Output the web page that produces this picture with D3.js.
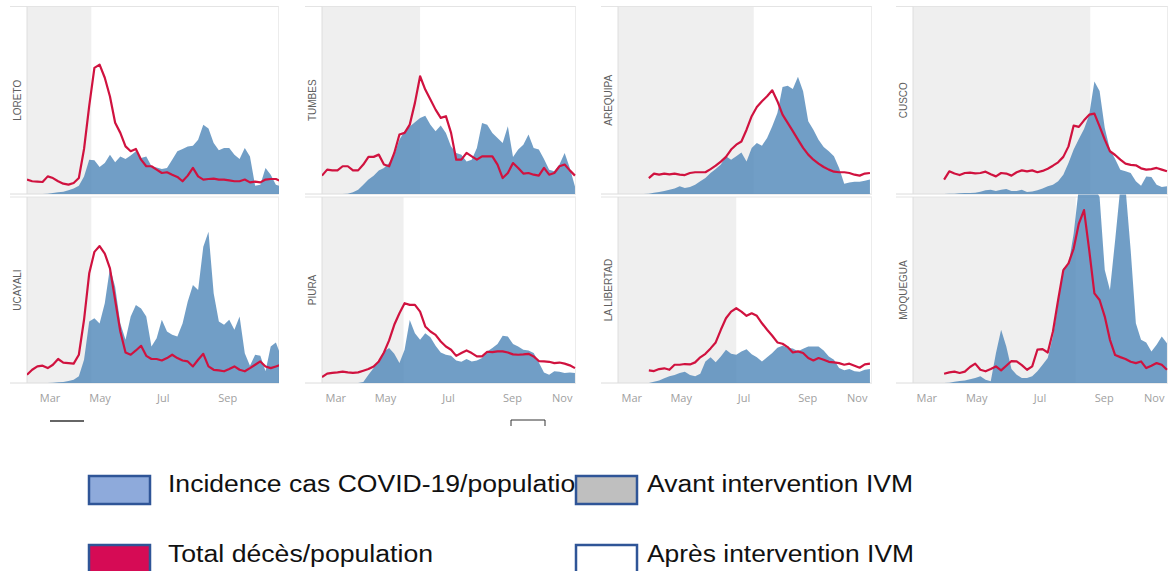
<!DOCTYPE html>
<html>
<head>
<meta charset="utf-8">
<script src="https://cdn.jsdelivr.net/npm/d3@7"></script>
<style>
  body { margin: 0; background: #fff; }
</style>
</head>
<body>
<svg id="chart" width="1168" height="571"></svg>
<script>
// readings every 5 days from the start of each column, 0-100 = share of panel height
var step = 5;

var regions = ["LORETO", "TUMBES", "AREQUIPA", "CUSCO", "UCAYALI", "PIURA", "LA LIBERTAD", "MOQUEGUA"];
var colStart = ["2020-02-21", "2020-03-01", "2020-03-01", "2020-03-01"];
var colEnd = ["2020-10-21", "2020-11-02", "2020-11-03", "2020-11-02"];
var ivmStart = ["2020-04-23", "2020-06-04", "2020-07-11", "2020-08-19",
                "2020-04-23", "2020-05-19", "2020-06-24", "2020-08-05"];
var tickDates = ["2020-03-01", "2020-05-01", "2020-07-01", "2020-09-01", "2020-11-01"];

var loretoCases = [0,0,0,0,0.2,0.5,0.9,1.2,2,3,4.4,9.4,18.3,18,14.4,16.5,21,17,20,18.7,20.5,22.8,19.2,20,15,14.2,13.3,13.9,18.3,22.8,24,25.4,25.8,29,37,35,27.2,23.3,24.6,24.6,21,18.7,24.6,20,4.4,5,13.9,10.3,5,4];
var loretoDeaths = [7.7,6.8,6.6,6.4,9.4,8.5,6.8,5.5,5,5.9,8.5,24,47,67.3,69,62,52,38,32.6,25.4,22.8,24,18.3,14.8,14.8,13,11.2,11.6,10.3,9.1,6.8,9.8,13.9,9.4,7.7,8,8.2,7.7,7.7,7.3,6.8,6.8,7.7,6.2,6.6,6.2,7.7,8,8,6.8];

var tumbesCases = [0,0,0,0,0,0.2,0.9,2.3,5,7.7,9.8,12.6,13.9,16.5,21,29,33.5,36,38.3,40.6,41.8,37,33.5,36.5,32.6,25.4,21.9,21,17.4,18.3,24.6,37.9,37,32.6,29.9,27.2,36.1,19.8,23.7,26.3,31.7,24.6,23.7,18.7,13,12.1,15.7,21.9,13.9,4];
var tumbesDeaths = [9.8,13,12.6,12.6,14.8,14.8,12.6,12.6,15.7,19.8,19.8,21,15.7,14.8,21.9,31.7,32.6,37,48.6,62.8,55.7,50.4,45,40.6,41.5,32.6,18.3,18.3,21.9,20.1,18.3,20.1,20.1,20.1,15.7,8.5,11.2,16.5,13.9,10.9,11.2,10.3,9.8,13.9,10.3,11.2,14.8,15.7,12.6,9.8];

var arequipaCases = [0,0,0,0,0,0,0.2,0.7,1.1,1.6,2.3,3,4.1,3.2,3.7,5,6.8,8.5,11.2,13.3,15.7,20.1,18.3,20.1,22.2,17.4,24.6,27.2,25.8,29.9,36.1,43.2,57.1,57.8,56,62.5,54.8,38.8,34.3,29,25.1,22.8,20.1,13.9,5.5,6.2,6.6,6.6,7.1,7.7];
var arequipaDeaths = [null,null,null,null,null,null,8.5,10.9,10.3,10.9,10.5,10.9,10.3,10.1,11.2,11.6,11.6,11.6,13.3,15.1,17.3,19.8,23.7,26.3,28,34.3,41.5,46.4,49.5,52.1,55.3,49.5,42.3,37.9,33.5,29,24.6,21,18.3,16.2,14.4,13,11.9,11.6,11.6,11.2,10.3,9.8,10.9,11.2];

var cuscoCases = [0,0,0,0,0,0,0,0.2,0.2,0.4,0.5,0.5,0.7,1.2,2,2.3,1.6,2.3,2.7,1.6,1.6,2.3,1.1,1.4,2,3,4.1,5,6.8,10.3,16.5,23.7,29.4,34.7,42.3,60,55,35.2,23.7,18.7,13,12.1,11.2,6.8,4.4,9.4,9.1,5,3.7,4.1];
var cuscoDeaths = [null,null,null,null,null,null,7.7,12.1,10.9,10.1,11.2,11.4,11,11.2,11.9,10.5,9.4,11.2,10.9,9.8,11.6,12.6,12.1,12.6,11.6,12.3,13.5,15.1,16.9,19.8,25.4,36.5,35.8,39.3,42.3,42.9,36.1,29,22.8,20.8,18.3,16.2,15.5,15.3,13.7,13,13.3,13.9,13,12.1];

var ucayaliCases = [0,0,0,0,0,0.2,0.4,0.5,1.1,1.8,3.6,12.5,33,34.8,32,42.9,62,51.8,32,23.2,35.7,42,40,35.7,19.6,24,34,27.7,26,25,32,43.8,52.7,50,73.2,81.3,48.2,33,31.3,34,28.6,35.7,16,9.3,15.2,14.6,6.3,19.6,21.8,14.3];
var ucayaliDeaths = [4.5,7.1,8.9,9.3,8,9.8,12.9,11,10.7,10.4,15.2,34,59,70.5,73.6,69.6,61.6,44.6,27.7,16.4,15.2,17.5,20,14.6,12.9,12.9,12.1,13.4,15.2,13.4,12.1,11.6,8.9,12.5,15.7,8.9,7.1,6.8,6.3,7.5,8.9,7.1,6.3,8,9.8,11.6,8.9,8,8.9,9.8];

var piuraCases = [0,0,0,0,0,0,0,0,0.5,4.5,8,12.1,17,18.8,15.7,10.7,17.9,33.9,26.8,23.2,26.8,24.6,20,16.4,15.2,14.6,12.1,11.4,12.9,11.6,12.1,13.4,17,18.8,21,25.4,25,21,19.6,17.9,17.5,16.1,11,5.7,4.5,6.3,6.1,5.4,5.7,5.4];
var piuraDeaths = [3.2,5,5.4,5.7,6.1,5.7,5.4,5.7,6.6,7.5,8.9,11.6,16.4,22.9,31.3,37.5,42.9,42,42,38.4,30.4,27.7,25.9,22.3,19.6,17.9,14.6,16.1,17.5,16.1,14.3,14.3,16.8,16.6,17,17,16.4,15.4,15.2,15.4,15.7,14.3,11.8,11.6,11.4,10.7,11,10.4,9.5,8];

var laLibertadCases = [0,0,0,0,0,0,0,0.7,1.4,2.5,3.6,4.3,5.4,6.1,4.3,3.6,5,11.6,13.9,11.1,14.3,17.9,15.7,15.2,17,18.2,15.4,13.9,11.6,13.9,16.1,18.9,20,18.9,18.6,17.1,18.4,19.6,19.6,19.6,17.5,14.3,12.5,8,6.8,7.5,6.3,6.1,7.1,7.5];
var laLibertadDeaths = [null,null,null,null,null,null,6.8,6.4,7.5,7.9,7.1,9.8,9.8,10.2,10,11.1,13.8,15.7,18.6,21.8,28.6,34.8,38.4,40.2,38.4,36.1,37.5,36.1,32.1,28.6,25.4,21.8,21.1,19.3,16.4,17,16.1,13.4,12.1,13.4,12.5,11.4,11.1,10.7,9.8,10.4,9.3,8.2,10,10.4];

var moqueguaCases = [0,0,0,0,0,0,0,0.2,0.7,1.1,1.4,2,2.7,3.6,1.8,0.9,16,28.6,19.6,7.5,4.5,2.7,2.7,3.6,6.3,9.8,13.4,25,42.9,61.6,63.4,80.4,105,105,105,105,100,60.7,50,76.8,105,105,71.4,32.1,23.2,21.8,17,20.5,25,21.4];
var moqueguaDeaths = [null,null,null,null,null,null,5,5.7,6.1,5.4,6.1,8.6,10.4,7.1,6.3,7.5,8.9,6.8,9.3,11.8,11.6,9.6,7.1,8.9,17.9,18.2,16.4,27.7,44.6,60.7,64.3,72.3,85.7,93,71.4,48.2,44.6,35.7,23.2,15,13.9,12.9,11.4,10.7,11.6,8,9.3,10.7,9.8,7.1];

var casesByRegion = [loretoCases, tumbesCases, arequipaCases, cuscoCases,
                     ucayaliCases, piuraCases, laLibertadCases, moqueguaCases];
var deathsByRegion = [loretoDeaths, tumbesDeaths, arequipaDeaths, cuscoDeaths,
                      ucayaliDeaths, piuraDeaths, laLibertadDeaths, moqueguaDeaths];

var legendLabels = ["Incidence cas COVID-19/population", "Avant intervention IVM",
                    "Total décès/population", "Après intervention IVM"];

// layout
var colX = [[27, 279], [322, 576], [618, 872], [913, 1168]];
var rowY = [[6.5, 194], [197, 383]];
var parse = d3.timeParse("%Y-%m-%d");

var svg = d3.select("#chart");
var defs = svg.append("defs");

regions.forEach(function(name, k) {
    var col = k % 4, row = Math.floor(k / 4);
    var x0 = colX[col][0], x1 = colX[col][1];
    var top = rowY[row][0], bottom = rowY[row][1];
    var start = parse(colStart[col]);

    var x = d3.scaleTime()
        .domain([start, parse(colEnd[col])])
        .range([x0, x1]);
    var y = d3.scaleLinear().domain([0, 100]).range([bottom, top]);

    var toPoints = function(arr) {
        return arr.map(function(v, i) {
            return { date: d3.timeDay.offset(start, i * step), v: v };
        });
    };
    var cases = toPoints(casesByRegion[k]);
    var deaths = toPoints(deathsByRegion[k]);

    var g = svg.append("g").attr("class", "panel");

    defs.append("clipPath").attr("id", "clip" + k)
        .append("rect")
        .attr("x", x0).attr("y", top - 2.5)
        .attr("width", x1 - x0).attr("height", bottom - top + 2.5);

    // before-intervention shading
    g.append("rect")
        .attr("x", x0).attr("y", top)
        .attr("width", x(parse(ivmStart[k])) - x0)
        .attr("height", bottom - top)
        .attr("fill", "#efefef");

    // frame lines
    g.append("line").attr("x1", x0 - 17).attr("x2", x1).attr("y1", top).attr("y2", top)
        .attr("stroke", "#e4e4e4");
    g.append("line").attr("x1", x0 - 17).attr("x2", x1).attr("y1", bottom).attr("y2", bottom)
        .attr("stroke", "#dcdcdc");
    g.append("line").attr("x1", x0).attr("x2", x0).attr("y1", top).attr("y2", bottom)
        .attr("stroke", "#dedede");
    g.append("line").attr("x1", x1 - 0.5).attr("x2", x1 - 0.5).attr("y1", top).attr("y2", bottom)
        .attr("stroke", "#ececec");

    var area = d3.area()
        .x(function(d) { return x(d.date); })
        .y0(bottom)
        .y1(function(d) { return y(d.v); });

    var line = d3.line()
        .defined(function(d) { return d.v != null; })
        .x(function(d) { return x(d.date); })
        .y(function(d) { return y(d.v); });

    var plot = g.append("g").attr("clip-path", "url(#clip" + k + ")");

    plot.append("path")
        .datum(cases)
        .attr("d", area)
        .attr("fill", "#4e86b8")
        .attr("fill-opacity", 0.8);

    plot.append("path")
        .datum(deaths)
        .attr("d", line)
        .attr("fill", "none")
        .attr("stroke", "#d0123f")
        .attr("stroke-width", 2.2)
        .attr("stroke-linejoin", "round");

    g.append("text")
        .attr("transform", "translate(" + (x0 - 6) + "," + ((top + bottom) / 2) + ") rotate(-90)")
        .attr("text-anchor", "middle")
        .style("font-family", "Liberation Sans, Arial, sans-serif")
        .style("font-size", "10px")
        .attr("fill", "#606060")
        .text(name);

    if (row === 1) {
        var ticks = tickDates.map(parse).filter(function(d) {
            return d >= x.domain()[0] && d <= x.domain()[1];
        });
        var ax = g.append("g")
            .attr("transform", "translate(0," + bottom + ")")
            .call(d3.axisBottom(x).tickValues(ticks)
                .tickFormat(d3.timeFormat("%b")).tickSize(0).tickPadding(11));
        ax.select(".domain").remove();
        ax.selectAll("text")
            .style("font-family", "Open Sans, sans-serif")
            .style("font-size", "11px")
            .attr("fill", "#a0a0a0")
            .each(function(d) {
                var px = x(d);
                if (px - x0 < 10) d3.select(this).attr("text-anchor", "start").attr("dx", 3);
                if (x1 - px < 10) d3.select(this).attr("text-anchor", "end").attr("dx", -3);
            });
    }
});

// stray marks under the axes
svg.append("line").attr("x1", 50).attr("x2", 84).attr("y1", 421).attr("y2", 421)
    .attr("stroke", "#333").attr("stroke-width", 1.5);
svg.append("path").attr("d", "M511,426V420H545V426")
    .attr("fill", "none").attr("stroke", "#333").attr("stroke-width", 1);

// legend
var legend = [
    { x: 89, y: 476, fill: "#8eaadb", tx: 168, ty: 492, len: 422 },
    { x: 576, y: 476, fill: "#bfbfbf", tx: 647, ty: 492, len: 266 },
    { x: 89, y: 545, fill: "#d60b55", tx: 168, ty: 562, len: 265 },
    { x: 576, y: 545, fill: "#ffffff", tx: 647, ty: 562, len: 267 }
];
var lg = svg.append("g").attr("class", "legend");
lg.selectAll("text").data(legend).enter().append("text")
    .attr("x", function(d) { return d.tx; })
    .attr("y", function(d) { return d.ty; })
    .attr("textLength", function(d) { return d.len; })
    .attr("lengthAdjust", "spacingAndGlyphs")
    .style("font-family", "Liberation Sans, Arial, sans-serif")
    .style("font-size", "23px")
    .attr("fill", "#111")
    .text(function(d, i) { return legendLabels[i]; });
lg.selectAll("rect").data(legend).enter().append("rect")
    .attr("x", function(d) { return d.x; })
    .attr("y", function(d) { return d.y; })
    .attr("width", 61)
    .attr("height", 28)
    .attr("fill", function(d) { return d.fill; })
    .attr("stroke", "#2f5597")
    .attr("stroke-width", 2.5);
</script>
</body>
</html>
